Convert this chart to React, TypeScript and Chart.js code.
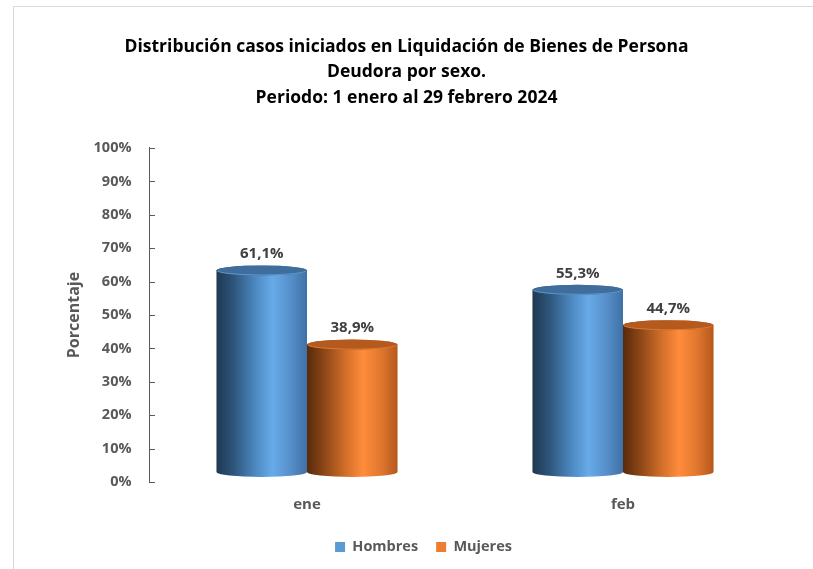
import React, { useEffect, useRef } from "react";
import { Chart, registerables } from "chart.js";

Chart.register(...registerables);

const categories = ["ene", "feb"];
const seriesNames = ["Hombres", "Mujeres"];
const hombres = [61.1, 55.3];
const mujeres = [38.9, 44.7];
const yTicks = [0, 10, 20, 30, 40, 50, 60, 70, 80, 90, 100];
const titleLines = [
  "Distribución casos iniciados en Liquidación de Bienes de Persona",
  "Deudora por sexo.",
  "Periodo: 1 enero al 29 febrero 2024",
];
const yTitle = "Porcentaje";

const FONT = "'Open Sans', 'Noto Sans', sans-serif";
const legendColors = ["#5b9bd5", "#ed7d31"];
const cylGradients = [
  [
    [0, "#1e3852"],
    [0.18, "#2d5479"],
    [0.45, "#4f8cc6"],
    [0.62, "#67abe8"],
    [0.82, "#568fca"],
    [1, "#3f71a5"],
  ],
  [
    [0, "#582a0c"],
    [0.18, "#8a4516"],
    [0.45, "#d8722c"],
    [0.62, "#ff8c3b"],
    [0.82, "#e0772f"],
    [1, "#b6571b"],
  ],
];
const topColors = ["#3f6e9c", "#b45a1f"];
const topRims = ["#5f95c9", "#d9782f"];

const fmt = (v: number) => v.toFixed(1).replace(".", ",") + "%";

const cylinderPlugin = {
  id: "cylinders",
  afterLayout(chart: any) {
    if (chart.legend) {
      chart.legend.left += 13;
      chart.legend.right += 13;
    }
    if (chart.titleBlock) {
      chart.titleBlock.left -= 4;
      chart.titleBlock.right -= 4;
    }
  },
  beforeDatasetsDraw(chart: any) {
    const ctx = chart.ctx;
    const ry = 5;
    const topShift = 7.5;
    const botShift = 10;
    chart.data.datasets.forEach((ds: any, di: number) => {
      const meta = chart.getDatasetMeta(di);
      if (meta.hidden) return;
      meta.data.forEach((bar: any, i: number) => {
        const { x, y, base, width } = bar.getProps(["x", "y", "base", "width"], true);
        const rx = width / 2;
        const left = x - rx;
        const right = x + rx;
        const topC = y - topShift;
        const botC = base - botShift;
        const g = ctx.createLinearGradient(left, 0, right, 0);
        cylGradients[di].forEach(([o, c]: any) => g.addColorStop(o, c));
        ctx.save();
        ctx.beginPath();
        ctx.moveTo(left, topC);
        ctx.lineTo(left, botC);
        ctx.ellipse(x, botC, rx, ry, 0, Math.PI, 0, true);
        ctx.lineTo(right, topC);
        ctx.ellipse(x, topC, rx, ry, 0, 0, Math.PI, true);
        ctx.closePath();
        ctx.fillStyle = g;
        ctx.fill();
        ctx.beginPath();
        ctx.ellipse(x, topC, rx, ry, 0, 0, Math.PI * 2);
        ctx.fillStyle = topColors[di];
        ctx.fill();
        ctx.lineWidth = 1;
        ctx.strokeStyle = topRims[di];
        ctx.beginPath();
        ctx.ellipse(x, topC, rx - 0.5, ry - 0.5, 0, 0.15, Math.PI - 0.15);
        ctx.stroke();
        ctx.fillStyle = "#404040";
        ctx.font = `bold 15px ${FONT}`;
        ctx.textAlign = "center";
        ctx.textBaseline = "middle";
        ctx.fillText(fmt(ds.data[i]), x, y - 24);
        ctx.restore();
      });
    });
    return false;
  },
  afterDraw(chart: any) {
    const ctx = chart.ctx;
    const ys = chart.scales.y;
    ctx.save();
    ctx.strokeStyle = "#595959";
    ctx.lineWidth = 1;
    ys.ticks.forEach((t: any) => {
      const py = Math.round(ys.getPixelForValue(t.value)) + 0.5;
      ctx.beginPath();
      ctx.moveTo(ys.right, py);
      ctx.lineTo(ys.right + 6, py);
      ctx.stroke();
    });
    ctx.restore();
  },
};

export default function App() {
  const ref = useRef<HTMLCanvasElement>(null);
  useEffect(() => {
    if (!ref.current) return;
    const chart = new Chart(ref.current, {
      type: "bar",
      data: {
        labels: categories,
        datasets: [
          {
            label: seriesNames[0],
            data: hombres,
            backgroundColor: legendColors[0],
            borderWidth: 0,
            barPercentage: 1,
            categoryPercentage: 0.573,
          },
          {
            label: seriesNames[1],
            data: mujeres,
            backgroundColor: legendColors[1],
            borderWidth: 0,
            barPercentage: 1,
            categoryPercentage: 0.573,
          },
        ],
      },
      options: {
        animation: false,
        responsive: false,
        maintainAspectRatio: false,
        layout: { padding: { left: 40, right: 32, top: 0, bottom: 4.75 } },
        plugins: {
          tooltip: { enabled: false },
          title: {
            display: true,
            text: titleLines,
            color: "#000000",
            font: { family: FONT, size: 17.5, weight: "bold", lineHeight: 1.457 },
            padding: { top: 34.25, bottom: 37.25 },
          },
          legend: {
            position: "bottom",
            labels: {
              color: "#595959",
              font: { family: FONT, size: 14.5, weight: "bold" },
              boxWidth: 10,
              boxHeight: 10,
              padding: 18,
            },
          },
        },
        scales: {
          x: {
            grid: { display: false, drawTicks: false },
            border: { display: false },
            ticks: {
              color: "#595959",
              font: { family: FONT, size: 15, weight: "bold" },
              padding: 14,
            },
            afterFit: (s: any) => {
              s.height = 39.75;
            },
          },
          y: {
            min: 0,
            max: 100,
            afterBuildTicks: (s: any) => {
              s.ticks = yTicks.map((v) => ({ value: v }));
            },
            grid: { display: false, drawTicks: false },
            border: { display: true, color: "#595959", width: 1 },
            ticks: {
              color: "#595959",
              font: { family: FONT, size: 14.5, weight: "bold" },
              padding: 17.5,
              callback: (v: any) => v + "%",
            },
            title: {
              display: true,
              text: yTitle,
              color: "#595959",
              font: { family: FONT, size: 16, weight: "bold" },
              padding: { top: 24.4, bottom: 0 },
            },
            afterFit: (s: any) => {
              s.width = 109;
            },
          },
        },
      },
      plugins: [cylinderPlugin],
    });
    return () => chart.destroy();
  }, []);
  return (
    <div style={{ position: "absolute", left: 0, top: 0, width: 813, height: 569, background: "#ffffff" }}>
      <div
        style={{
          position: "absolute",
          left: 13,
          top: 6,
          width: 800,
          height: 563,
          borderLeft: "1px solid #d9d9d9",
          borderTop: "1px solid #d9d9d9",
          boxSizing: "border-box",
        }}
      />
      <canvas ref={ref} width={813} height={569} style={{ position: "absolute", left: 0, top: 0 }} />
    </div>
  );
}
